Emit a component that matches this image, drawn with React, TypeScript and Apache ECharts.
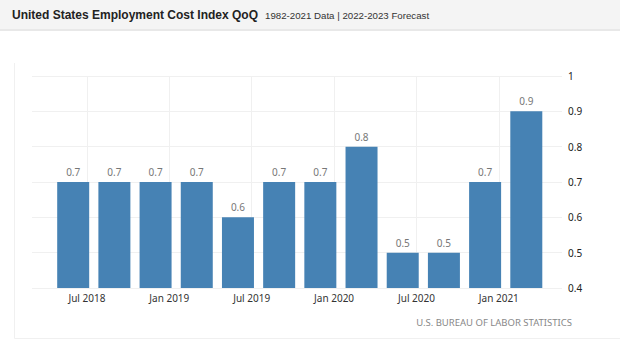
import React, { useEffect, useRef } from "react";
import * as echarts from "echarts";

// Month index: 0 = Jan 2018
const barMonths = [5, 8, 11, 14, 17, 20, 23, 26, 29, 32, 35, 38];
const values = [0.7, 0.7, 0.7, 0.7, 0.6, 0.7, 0.7, 0.8, 0.5, 0.5, 0.7, 0.9];
const tickMonths = [6, 12, 18, 24, 30, 36];
const tickLabels = ["Jul 2018", "Jan 2019", "Jul 2019", "Jan 2020", "Jul 2020", "Jan 2021"];
const yTicks = [0.4, 0.5, 0.6, 0.7, 0.8, 0.9, 1];

const TITLE = "United States Employment Cost Index QoQ";
const SUBTITLE = "1982-2021 Data | 2022-2023 Forecast";
const SOURCE = "U.S. BUREAU OF LABOR STATISTICS";

export default function App() {
  const ref = useRef<HTMLDivElement>(null);
  useEffect(() => {
    if (!ref.current) return;
    const chart = echarts.init(ref.current, null, { renderer: "svg" });
    const labelMap: Record<number, string> = {};
    tickMonths.forEach((m, i) => (labelMap[m] = tickLabels[i]));
    chart.setOption({
      animation: false,
      backgroundColor: "#ffffff",
      grid: { left: 32, right: 58, top: 76, bottom: 66 },
      xAxis: {
        type: "value",
        min: 2,
        max: 40.6,
        axisLine: { show: false },
        axisTick: { show: false },
        splitLine: { show: false },
        axisLabel: {
          customValues: tickMonths,
          formatter: (v: number) => labelMap[Math.round(v)] ?? "",
          color: "#333",
          fontFamily: "Noto Sans",
          fontSize: 10,
          margin: 5,
        },
      },
      yAxis: {
        type: "value",
        position: "right",
        min: yTicks[0],
        max: yTicks[yTicks.length - 1],
        interval: 0.1,
        axisLine: { show: false },
        axisTick: { show: false },
        splitLine: { lineStyle: { color: "#f0f0f0", width: 1 } },
        axisLabel: {
          formatter: (v: number) => String(Math.round(v * 10) / 10),
          color: "#222",
          fontFamily: "Noto Sans",
          fontSize: 10,
          margin: 6,
        },
      },
      series: [
        {
          type: "bar",
          data: barMonths.map((m, i) => [m, values[i]]),
          barWidth: 32,
          itemStyle: { color: "#4682b4" },
          label: {
            show: true,
            position: "top",
            distance: 5,
            color: "#777",
            fontFamily: "Noto Sans",
            fontSize: 10,
            formatter: (p: any) => String(p.value[1]),
          },
          markLine: {
            silent: true,
            symbol: ["none", "none"],
            label: { show: false },
            lineStyle: { color: "#f0f0f0", type: "solid", width: 1 },
            data: tickMonths.map((m) => ({ xAxis: m })),
            z: 0,
          },
          z: 3,
        },
      ],
      graphic: [
        { type: "rect", shape: { x: 0, y: 0, width: 620, height: 29 }, style: { fill: "#f4f4f4" }, z: -10 },
        { type: "rect", shape: { x: 0, y: 29, width: 620, height: 2 }, style: { fill: "#e8e8e8" }, z: -10 },
        { type: "line", shape: { x1: 14.5, y1: 63, x2: 14.5, y2: 338.5 }, style: { stroke: "#f0f0f0", lineWidth: 1 }, z: -10 },
        { type: "line", shape: { x1: 14.5, y1: 338.5, x2: 620, y2: 338.5 }, style: { stroke: "#f0f0f0", lineWidth: 1 }, z: -10 },
        {
          type: "text",
          x: 12,
          y: 15,
          style: {
            text: TITLE,
            fill: "#222",
            font: "bold 12px 'Liberation Sans', Arial, sans-serif",
            textVerticalAlign: "middle",
          },
        },
        {
          type: "text",
          x: 265,
          y: 15,
          style: {
            text: SUBTITLE,
            fill: "#333",
            font: "9.7px 'Liberation Sans', Arial, sans-serif",
            textVerticalAlign: "middle",
          },
        },
        {
          type: "text",
          x: 572,
          y: 322,
          style: {
            text: SOURCE,
            fill: "#888",
            font: "9.5px 'Noto Sans', sans-serif",
            textAlign: "right",
            textVerticalAlign: "middle",
          },
        },
      ],
    });
    return () => chart.dispose();
  }, []);
  return (
    <div
      ref={ref}
      style={{ position: "fixed", left: 0, top: 0, width: 620, height: 354 }}
    />
  );
}
